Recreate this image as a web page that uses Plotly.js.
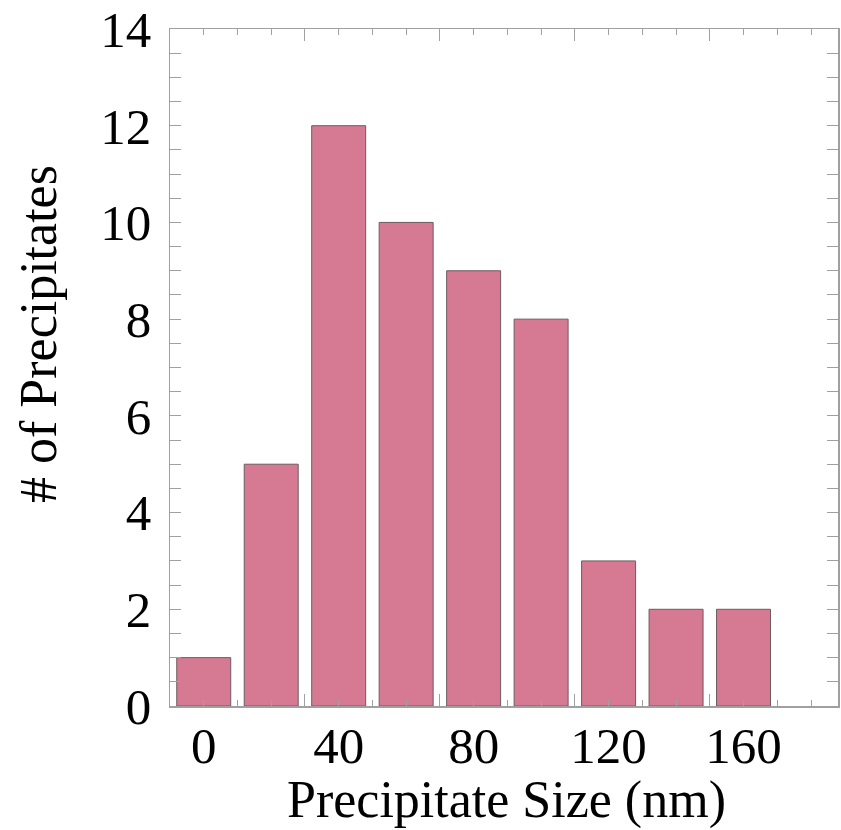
<!DOCTYPE html>
<html><head><meta charset="utf-8">
<script src="https://cdn.plot.ly/plotly-3.0.1.min.js"></script>
<style>html,body{margin:0;padding:0;background:#fff}#chart{width:841px;height:830px}</style>
</head><body><div id="chart"></div>
<script>
const sizes = [0, 20, 40, 60, 80, 100, 120, 140, 160];
const counts = [1, 5, 12, 10, 9, 8, 3, 2, 2];
const xTickVals = [0, 40, 80, 120, 160];
const xTickText = ["0", "40", "80", "120", "160"];
const xLongTicks = [-10, 30, 70, 110, 150];
const yTickVals = [0, 2, 4, 6, 8, 10, 12, 14];
const xTitle = "Precipitate Size (nm)";
const yTitle = "# of Precipitates";

const F = "Liberation Serif, Times New Roman, serif";
const frame = "#a0a0a0";

const trace = {
  type: "bar", x: sizes, y: counts, width: 16,
  marker: {color: "#d67a93", line: {color: "#6e5a60", width: 1}},
  hoverinfo: "skip"
};
const dummy = {type: "scatter", x: [0], y: [0], xaxis: "x2", mode: "markers",
  marker: {opacity: 0}, hoverinfo: "skip", showlegend: false};

const layout = {
  width: 841, height: 830,
  margin: {l: 170, r: 3, t: 29, b: 124},
  paper_bgcolor: "#fff", plot_bgcolor: "#fff",
  showlegend: false,
  bargap: 0,
  font: {family: F, color: "#000"},
  xaxis: {
    range: [-10, 188], tickvals: xTickVals, ticktext: xTickText,
    ticks: "inside", ticklen: 6, tickcolor: frame, tickwidth: 1,
    minor: {dtick: 10, tick0: 0, ticks: "inside", ticklen: 6, tickcolor: frame},
    showline: true, linecolor: frame, linewidth: 1.5, mirror: "allticks",
    showgrid: false, zeroline: false,
    ticklabelstandoff: -6,
    tickfont: {family: F, size: 51, color: "#000"}
  },
  xaxis2: {
    overlaying: "x", matches: "x", range: [-10, 188], tickvals: xLongTicks,
    ticks: "inside", ticklen: 12, tickcolor: frame, showticklabels: false,
    showgrid: false, zeroline: false, showline: false, mirror: "allticks", anchor: "y"
  },
  yaxis: {
    range: [0, 14], tickvals: yTickVals,
    ticks: "inside", ticklen: 11, tickcolor: frame, tickwidth: 1,
    minor: {dtick: 0.5, tick0: 0, ticks: "inside", ticklen: 5, tickcolor: frame},
    showline: true, linecolor: frame, linewidth: 1.5, mirror: "allticks",
    showgrid: false, zeroline: false,
    ticklabelstandoff: 7,
    tickfont: {family: F, size: 51, color: "#000"}
  },
  annotations: [
    {text: xTitle, xref: "paper", yref: "paper", x: (507 - 170) / 668, y: (706 - 800) / 677,
     xanchor: "center", yanchor: "middle", showarrow: false,
     font: {family: F, size: 52, color: "#000"}},
    {text: yTitle, xref: "paper", yref: "paper", x: (38 - 170) / 668, y: (706 - 334) / 677,
     xanchor: "center", yanchor: "middle", showarrow: false, textangle: -90,
     font: {family: F, size: 52, color: "#000"}}
  ]
};
Plotly.newPlot("chart", [trace, dummy], layout, {staticPlot: true, displayModeBar: false});
</script></body></html>
